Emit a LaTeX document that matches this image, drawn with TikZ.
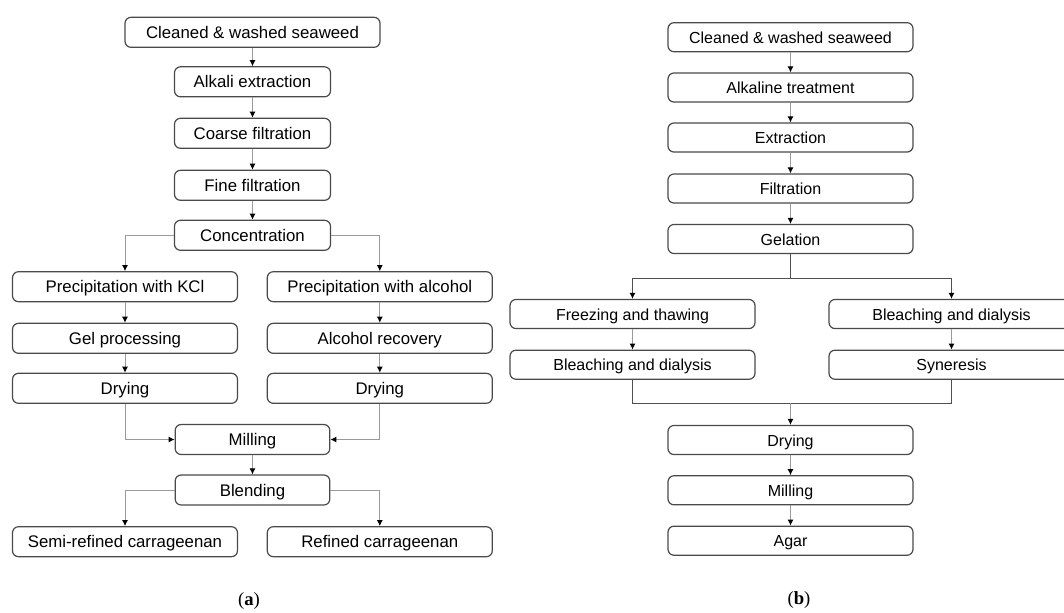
\documentclass[tikz,border=0pt]{standalone}
\usepackage{fontspec}
\setmainfont{Liberation Sans}
\newfontfamily\capfont{Liberation Serif}
\usetikzlibrary{arrows.meta}

\definecolor{boxgray}{HTML}{4A4A4A}
\definecolor{linegray}{HTML}{9A9A9A}
\definecolor{forkgray}{HTML}{505050}

\tikzset{
  box/.style={draw=boxgray, line width=0.9pt, rounded corners=4.5pt,
    inner sep=0pt, text height=11pt, text depth=2pt},
  boxa/.style={box, minimum height=22.5pt, font=\fontsize{12.6}{14}\selectfont},
  boxb/.style={box, minimum height=21.8pt, minimum width=183.75pt, font=\fontsize{12}{14}\selectfont},
  flow/.style={draw=linegray, line width=0.75pt, -{Latex[black,length=4.5pt,width=4.5pt]}},
  fork/.style={draw=forkgray, line width=0.75pt},
  caption/.style={font=\capfont\fontsize{14}{16}\selectfont}
}

\begin{document}
\begin{tikzpicture}[x=0.75pt, y=-0.75pt]
  \useasboundingbox (0,0) rectangle (1064,612);
  \clip (0,0) rectangle (1064,612);

  % Draw carrageenan chain (a)
  \node[boxa, minimum width=191.25pt] (a1) at (252.5,32.3) {Cleaned \& washed seaweed};
  \node[boxa, minimum width=117pt] (a2) at (252.5,81.8) {Alkali extraction};
  \node[boxa, minimum width=117pt] (a3) at (252.5,133.3) {Coarse filtration};
  \node[boxa, minimum width=117pt] (a4) at (252.5,185.3) {Fine filtration};
  \node[boxa, minimum width=117pt] (a5) at (252.5,235.3) {Concentration};
  \node[boxa, minimum width=168.75pt] (a6) at (125,286.7) {Precipitation with KCl};
  \node[boxa, minimum width=168.75pt] (a7) at (379.8,286.7) {Precipitation with alcohol};
  \node[boxa, minimum width=168.75pt] (a8) at (125,338.3) {Gel processing};
  \node[boxa, minimum width=168.75pt] (a9) at (379.8,338.3) {Alcohol recovery};
  \node[boxa, minimum width=168.75pt] (a10) at (125,388.3) {Drying};
  \node[boxa, minimum width=168.75pt] (a11) at (379.8,388.3) {Drying};
  \node[boxa, minimum width=116pt] (a12) at (252.5,439.5) {Milling};
  \node[boxa, minimum width=116pt] (a13) at (252.5,490) {Blending};
  \node[boxa, minimum width=168.75pt] (a14) at (125,541.7) {Semi-refined carrageenan};
  \node[boxa, minimum width=168.75pt] (a15) at (379.8,541.7) {Refined carrageenan};

  % Draw arrows (a)
  \draw[flow] (a1) -- (a2);
  \draw[flow] (a2) -- (a3);
  \draw[flow] (a3) -- (a4);
  \draw[flow] (a4) -- (a5);
  \draw[flow] (a5.west) -| (a6.north);
  \draw[flow] (a5.east) -| (a7.north);
  \draw[flow] (a6) -- (a8);
  \draw[flow] (a7) -- (a9);
  \draw[flow] (a8) -- (a10);
  \draw[flow] (a9) -- (a11);
  \draw[flow] (a10.south) |- (a12.west);
  \draw[flow] (a11.south) |- (a12.east);
  \draw[flow] (a12) -- (a13);
  \draw[flow] (a13.west) -| (a14.north);
  \draw[flow] (a13.east) -| (a15.north);

  % Draw agar chain (b)
  \node[boxb] (b1) at (790.5,37.2) {Cleaned \& washed seaweed};
  \node[boxb] (b2) at (790.5,87.5) {Alkaline treatment};
  \node[boxb] (b3) at (790.5,137.5) {Extraction};
  \node[boxb] (b4) at (790.5,188.5) {Filtration};
  \node[boxb] (b5) at (790.5,239) {Gelation};
  \node[boxb] (b6) at (632.5,314) {Freezing and thawing};
  \node[boxb] (b7) at (632.5,364.7) {Bleaching and dialysis};
  \node[boxb] (b8) at (951.5,314) {Bleaching and dialysis};
  \node[boxb] (b9) at (951.5,364.7) {Syneresis};
  \node[boxb] (b10) at (790.5,440) {Drying};
  \node[boxb] (b11) at (790.5,490.3) {Milling};
  \node[boxb] (b12) at (790.5,540.7) {Agar};
  \coordinate (split) at (790.5,278.3);
  \coordinate (join) at (790.5,403.3);

  % Draw arrows (b)
  \draw[flow] (b1) -- (b2);
  \draw[flow] (b2) -- (b3);
  \draw[flow] (b3) -- (b4);
  \draw[flow] (b4) -- (b5);
  \draw[fork] (b5) -- (split);
  \draw[flow, draw=forkgray] (split) -| (b6.north);
  \draw[flow, draw=forkgray] (split) -| (b8.north);
  \draw[flow] (b6) -- (b7);
  \draw[flow] (b8) -- (b9);
  \draw[fork] (b7.south) |- (join) -| (b9.south);
  \draw[flow] (join) -- (b10);
  \draw[flow] (b10) -- (b11);
  \draw[flow] (b11) -- (b12);

  % Labels
  \node[caption] (capa) at (249,601) {(\textbf{a})};
  \node[caption] (capb) at (799,600) {(\textbf{b})};
\end{tikzpicture}
\end{document}
